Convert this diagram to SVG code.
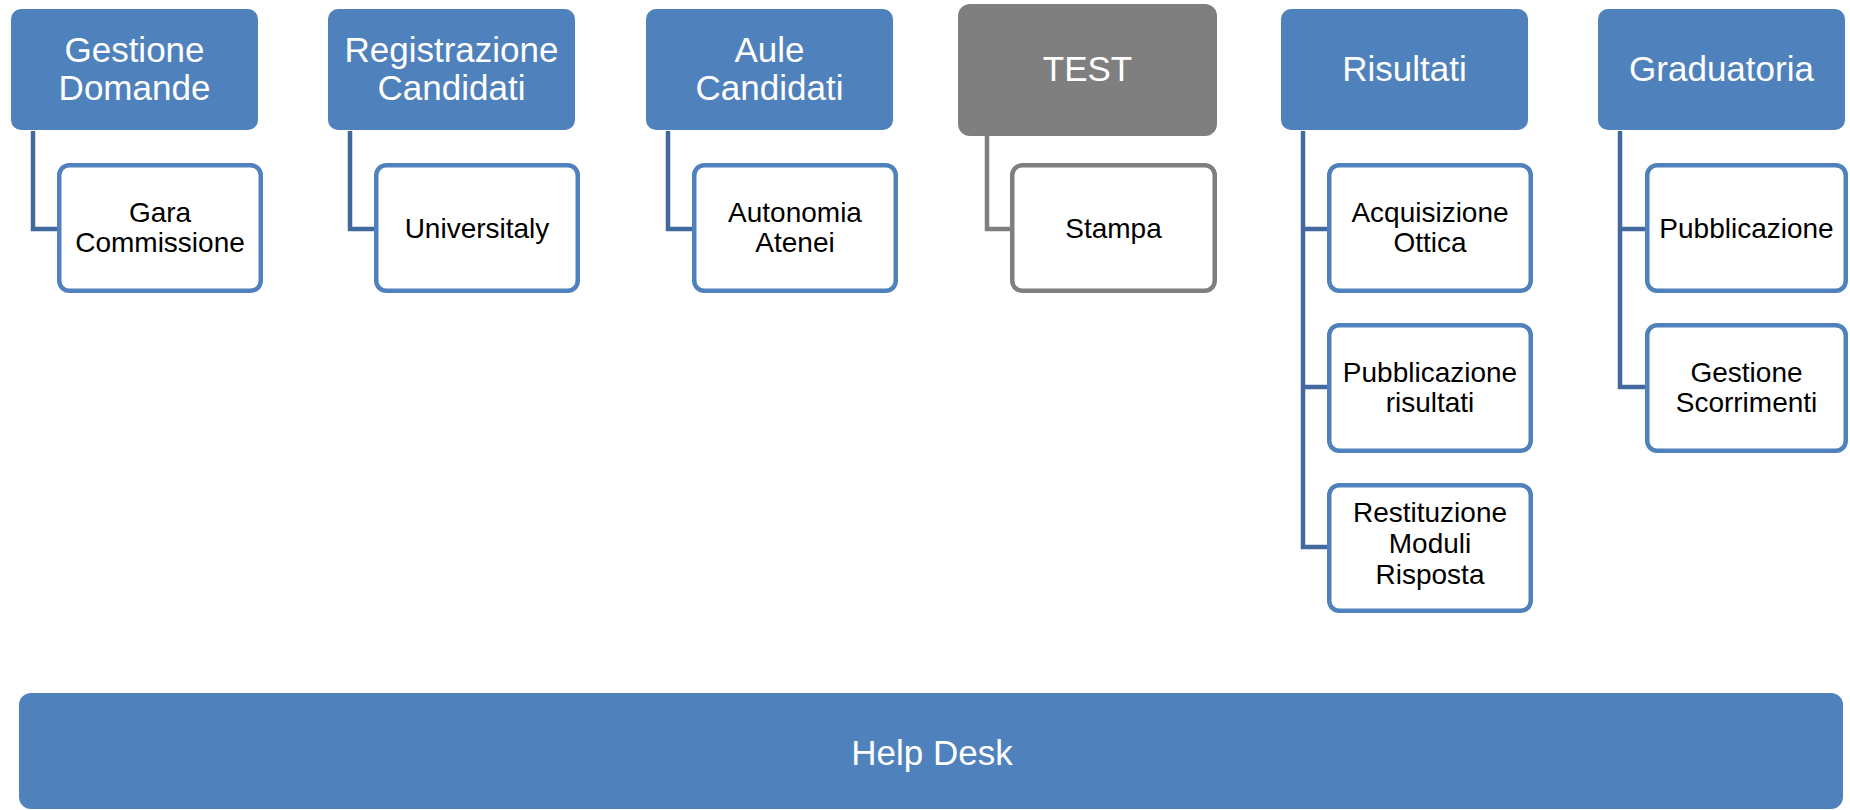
<svg xmlns="http://www.w3.org/2000/svg" width="1850" height="810" viewBox="0 0 1850 810">
<style>
.hdr{fill:#4f81bd}
.hdrg{fill:#7f7f7f}
.child{fill:#ffffff;stroke:#4f81bd;stroke-width:4.5}
.childg{fill:#ffffff;stroke:#7f7f7f;stroke-width:4.5}
.conn{fill:none;stroke:#41699d;stroke-width:4.5}
.conng{fill:none;stroke:#7f7f7f;stroke-width:4.5}
.ht{font-family:"Liberation Sans",Arial,sans-serif;font-size:35px;fill:#ffffff;text-anchor:middle}
.ct{font-family:"Liberation Sans",Arial,sans-serif;font-size:28px;fill:#000000;text-anchor:middle}
</style>
<rect width="1850" height="810" fill="#ffffff"/>
<g id="connectors">
<path class="conn" d="M33,131 V229 H57"/>
<path class="conn" d="M350,131 V229 H374"/>
<path class="conn" d="M668,131 V229 H692"/>
<path class="conng" d="M987,136 V229 H1010"/>
<path class="conn" d="M1303,131 V547 H1327 M1303,229 H1327 M1303,387 H1327"/>
<path class="conn" d="M1620,131 V387 H1645 M1620,229 H1645"/>
</g>
<g id="gestione-domande">
<rect class="hdr" x="11" y="9" width="247" height="121" rx="10"/>
<text class="ht" x="134.5" y="62">Gestione</text>
<text class="ht" x="134.5" y="100">Domande</text>
</g>
<g id="gara-commissione">
<rect class="child" x="59.25" y="165.25" width="201.5" height="125.5" rx="10"/>
<text class="ct" x="160" y="222">Gara</text>
<text class="ct" x="160" y="252">Commissione</text>
</g>
<g id="registrazione-candidati">
<rect class="hdr" x="328" y="9" width="247" height="121" rx="10"/>
<text class="ht" x="451.5" y="62">Registrazione</text>
<text class="ht" x="451.5" y="100">Candidati</text>
</g>
<g id="universitaly">
<rect class="child" x="376.25" y="165.25" width="201.5" height="125.5" rx="10"/>
<text class="ct" x="477" y="238">Universitaly</text>
</g>
<g id="aule-candidati">
<rect class="hdr" x="646" y="9" width="247" height="121" rx="10"/>
<text class="ht" x="769.5" y="62">Aule</text>
<text class="ht" x="769.5" y="100">Candidati</text>
</g>
<g id="autonomia-atenei">
<rect class="child" x="694.25" y="165.25" width="201.5" height="125.5" rx="10"/>
<text class="ct" x="795" y="222">Autonomia</text>
<text class="ct" x="795" y="252">Atenei</text>
</g>
<g id="test">
<rect class="hdrg" x="958" y="4" width="259" height="132" rx="12"/>
<text class="ht" x="1087.5" y="81">TEST</text>
</g>
<g id="stampa">
<rect class="childg" x="1012.25" y="165.25" width="202.5" height="125.5" rx="10"/>
<text class="ct" x="1113.5" y="238">Stampa</text>
</g>
<g id="risultati">
<rect class="hdr" x="1281" y="9" width="247" height="121" rx="10"/>
<text class="ht" x="1404.5" y="81">Risultati</text>
</g>
<g id="acquisizione-ottica">
<rect class="child" x="1329.25" y="165.25" width="201.5" height="125.5" rx="10"/>
<text class="ct" x="1430" y="222">Acquisizione</text>
<text class="ct" x="1430" y="252">Ottica</text>
</g>
<g id="pubblicazione-risultati">
<rect class="child" x="1329.25" y="325.25" width="201.5" height="125.5" rx="10"/>
<text class="ct" x="1430" y="382">Pubblicazione</text>
<text class="ct" x="1430" y="412">risultati</text>
</g>
<g id="restituzione-moduli-risposta">
<rect class="child" x="1329.25" y="485.25" width="201.5" height="125.5" rx="10"/>
<text class="ct" x="1430" y="522">Restituzione</text>
<text class="ct" x="1430" y="553">Moduli</text>
<text class="ct" x="1430" y="584">Risposta</text>
</g>
<g id="graduatoria">
<rect class="hdr" x="1598" y="9" width="247" height="121" rx="10"/>
<text class="ht" x="1721.5" y="81">Graduatoria</text>
</g>
<g id="pubblicazione">
<rect class="child" x="1647.25" y="165.25" width="198.5" height="125.5" rx="10"/>
<text class="ct" x="1746.5" y="238">Pubblicazione</text>
</g>
<g id="gestione-scorrimenti">
<rect class="child" x="1647.25" y="325.25" width="198.5" height="125.5" rx="10"/>
<text class="ct" x="1746.5" y="382">Gestione</text>
<text class="ct" x="1746.5" y="412">Scorrimenti</text>
</g>
<g id="help-desk">
<rect class="hdr" x="19" y="693" width="1824" height="116" rx="12"/>
<text class="ht" x="932" y="765">Help Desk</text>
</g>
</svg>
